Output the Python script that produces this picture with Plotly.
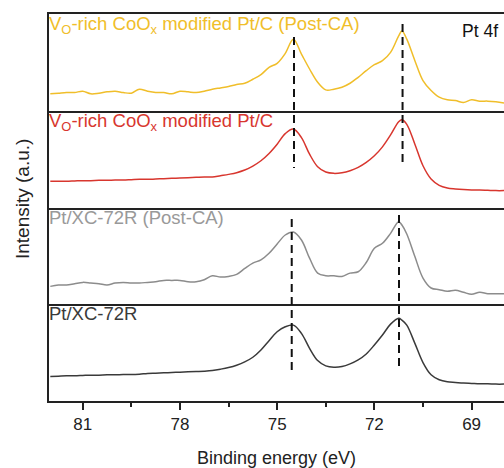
import plotly.graph_objects as go
from plotly.subplots import make_subplots

# Binding energy grid (eV)
energy = [82.0, 81.75, 81.5, 81.25, 81.0, 80.75, 80.5, 80.25, 80.0, 79.75,
          79.5, 79.25, 79.0, 78.75, 78.5, 78.25, 78.0, 77.75, 77.5, 77.25,
          77.0, 76.75, 76.5, 76.25, 76.0, 75.75, 75.5, 75.25, 75.0, 74.75,
          74.5, 74.25, 74.0, 73.75, 73.5, 73.25, 73.0, 72.75, 72.5, 72.25,
          72.0, 71.75, 71.5, 71.25, 71.15, 71.0, 70.75, 70.5, 70.25, 70.0,
          69.75, 69.5, 69.25, 69.0, 68.75, 68.5, 68.25, 68.0]

vo_post = [51, 53, 55, 55, 59, 51, 53, 57, 59, 55,
           53, 65, 59, 55, 55, 51, 59, 57, 55, 59,
           65, 69, 73, 79, 83, 95, 109, 131, 143, 173,
           216, 171, 126, 86, 63, 65, 71, 83, 101, 121,
           139, 151, 176, 226, 241, 216, 151, 91, 61, 41,
           33, 31, 25, 33, 29, 29, 27, 23]

vo_fresh = [79, 79, 79, 80, 81, 81, 82, 82, 83, 83,
            84, 85, 85, 86, 87, 88, 89, 90, 91, 92,
            92, 96, 100, 105, 113, 125, 141, 163, 191, 223,
            237, 211, 161, 123, 107, 103, 105, 111, 121, 136,
            156, 183, 219, 259, 265, 251, 191, 126, 86, 67,
            59, 56, 54, 53, 53, 52, 51, 51]

xc_post = [54, 58, 58, 62, 66, 64, 62, 58, 64, 66,
           64, 64, 66, 68, 72, 72, 72, 68, 68, 74,
           86, 82, 84, 90, 108, 124, 134, 154, 182, 209,
           218, 194, 139, 94, 86, 86, 84, 94, 98, 126,
           169, 184, 214, 249, 239, 212, 144, 79, 49, 44,
           39, 42, 36, 30, 36, 32, 32, 32]

xc_fresh = [74, 75, 76, 76, 77, 78, 78, 79, 79, 80,
            80, 81, 83, 84, 85, 86, 87, 88, 89, 90,
            92, 96, 101, 108, 118, 132, 154, 182, 209, 224,
            229, 204, 159, 122, 106, 102, 104, 112, 124, 142,
            169, 199, 232, 250, 244, 229, 174, 116, 79, 64,
            58, 56, 54, 53, 52, 52, 51, 51]

labels = ["V<sub>O</sub>-rich CoO<sub>x</sub> modified Pt/C (Post-CA)",
          "V<sub>O</sub>-rich CoO<sub>x</sub> modified Pt/C",
          "Pt/XC-72R (Post-CA)",
          "Pt/XC-72R"]
colors = ["#F0BE2A", "#D8362E", "#8C8C8C", "#3A3A3A"]
label_colors = ["#F0BE2A", "#D8362E", "#999999", "#3A3A3A"]
series = [vo_post, vo_fresh, xc_post, xc_fresh]

peak_top_pair = [74.48, 71.13]
peak_bottom_pair = [74.55, 71.24]

font_family = "Liberation Sans, Arial, sans-serif"
frame = "#222222"

fig = make_subplots(rows=4, cols=1, shared_xaxes=True, vertical_spacing=0)

for i, (ys, col) in enumerate(zip(series, colors)):
    fig.add_trace(go.Scatter(x=energy, y=ys, mode="lines",
                             line=dict(color=col, width=1.5, shape="spline", smoothing=1.0),
                             showlegend=False), row=i + 1, col=1)
    fig.update_yaxes(range=[0, 292], showticklabels=False, ticks="", showgrid=False,
                     zeroline=False, showline=True, linecolor=frame, linewidth=2,
                     mirror=False, row=i + 1, col=1)
    fig.add_annotation(text=labels[i], x=0, y=1, xref="x domain" if i == 0 else f"x{i+1} domain",
                       yref="y domain" if i == 0 else f"y{i+1} domain",
                       xanchor="left", yanchor="top", yshift=3, xshift=-2, showarrow=False,
                       font=dict(size=18.5, color=label_colors[i], family=font_family))

for i in range(1, 5):
    fig.update_xaxes(range=[82.04, 68.0], showgrid=False, zeroline=False, showline=True,
                     linecolor=frame, linewidth=2, mirror=(i == 1),
                     ticks="outside" if i == 4 else "", showticklabels=(i == 4),
                     tick0=69, dtick=3, ticklen=7, tickwidth=1.5, tickcolor=frame,
                     row=i, col=1)

fig.update_xaxes(minor=dict(dtick=1.5, tick0=69, ticks="outside", ticklen=4,
                            tickwidth=1.5, tickcolor=frame),
                 title=dict(text="Binding energy (eV)", standoff=18,
                            font=dict(size=18, color="#222", family=font_family)),
                 tickfont=dict(size=17, color="#222", family=font_family),
                 row=4, col=1)

def py(pix):
    return (401 - pix) / 387

dash_segments = [(peak_top_pair[0], py(37), py(168)), (peak_top_pair[1], py(24), py(166)),
                 (peak_bottom_pair[0], py(219), py(371)), (peak_bottom_pair[1], py(215), py(368))]
for xv, y0, y1 in dash_segments:
    fig.add_shape(type="line", xref="x", yref="paper", x0=xv, x1=xv, y0=y0, y1=y1,
                  line=dict(color="#111", width=2, dash="8px,5px"))

fig.add_annotation(text="Pt 4f", x=0.992, y=1, xref="x domain", yref="y domain",
                   xanchor="right", yanchor="top", yshift=-5, showarrow=False,
                   font=dict(size=17.5, color="#111", family=font_family))

fig.add_annotation(text="Intensity (a.u.)", x=(22 - 49) / 455, y=py(199), xref="paper", yref="paper",
                   textangle=-90, showarrow=False, xanchor="center", yanchor="middle",
                   font=dict(size=19, color="#222", family=font_family))

fig.update_layout(width=504, height=468, margin=dict(l=49, r=0, t=14, b=67),
                  plot_bgcolor="white", paper_bgcolor="white",
                  font=dict(family=font_family))

fig.write_html("out.html")
